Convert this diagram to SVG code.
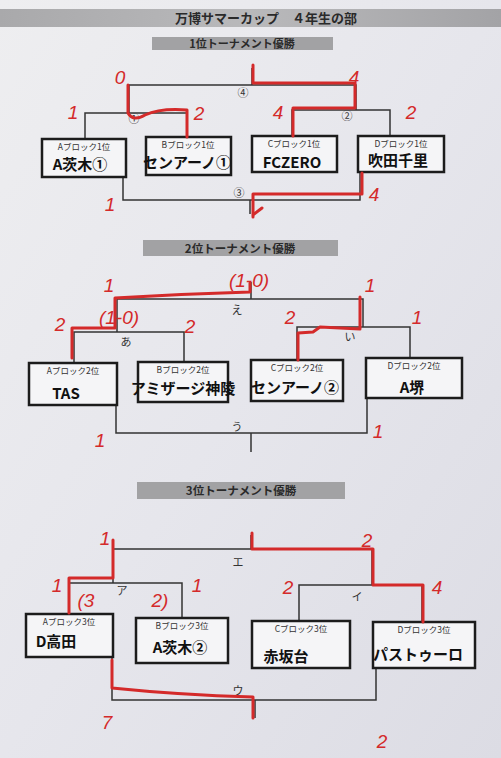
<svg xmlns="http://www.w3.org/2000/svg" width="501" height="758" viewBox="0 0 501 758">
<defs>
<linearGradient id="paper" x1="0" y1="0" x2="1" y2="1">
<stop offset="0" stop-color="#eeeef0"/>
<stop offset="0.5" stop-color="#e6e6ec"/>
<stop offset="1" stop-color="#dcdce4"/>
</linearGradient>
<linearGradient id="band" x1="0" y1="0" x2="1" y2="0">
<stop offset="0" stop-color="#a9a9ab"/>
<stop offset="0.5" stop-color="#b9b9bb"/>
<stop offset="1" stop-color="#a3a3a6"/>
</linearGradient>
<style>
.sub{fill:#a2a2a4}
.ttl{font-family:"Noto Sans CJK JP","Noto Sans",sans-serif;font-weight:bold;fill:#2a2a2a;text-anchor:middle}
.box{fill:#f5f5f7;stroke:#1c1c1c;stroke-width:2.5}
.blk{font-family:"Noto Sans CJK JP","Noto Sans",sans-serif;font-size:8.5px;fill:#333;text-anchor:middle}
.nm{font-family:"Noto Sans CJK JP","Noto Sans",sans-serif;font-size:15px;font-weight:bold;fill:#111;text-anchor:middle}
.ln{fill:none;stroke:#333;stroke-width:1.5}
.ml{font-family:"Noto Sans CJK JP","Noto Sans",sans-serif;font-size:11px;fill:#333;text-anchor:middle}
.rd{fill:none;stroke:#d42a2a;stroke-width:3;stroke-linecap:round;stroke-linejoin:round}
.rt{font-family:"Liberation Sans",sans-serif;font-size:19px;font-style:italic;fill:#d42a2a;text-anchor:middle}
</style>
</defs>
<rect width="501" height="758" fill="url(#paper)"/>
<g id="title">
<rect x="0" y="9" width="501" height="18" fill="url(#band)"/>
<text class="ttl" x="266" y="23" font-size="13">万博サマーカップ　４年生の部</text>
</g>
<g id="heading1"><rect class="sub" x="152" y="37" width="181" height="13"/><text class="ttl" x="242" y="47.5" font-size="11">1位トーナメント優勝</text></g>
<g id="heading2"><rect class="sub" x="143" y="240" width="195" height="16"/><text class="ttl" x="240" y="252.5" font-size="11.5">2位トーナメント優勝</text></g>
<g id="heading3"><rect class="sub" x="137" y="482" width="208" height="17"/><text class="ttl" x="241" y="495" font-size="11.5">3位トーナメント優勝</text></g>

<g id="connectors">
<path class="ln" d="M85,139 V113 H187 V137"/>
<path class="ln" d="M292,136 V110 H390 V136"/>
<path class="ln" d="M129,113 V85 H356 V110 M252,85 V68"/>
<path class="ln" d="M123,177 V200 H360 V172 M250,200 V214"/>
<path class="ln" d="M74,363 V332 H184 V362"/>
<path class="ln" d="M297,360 V327 H410 V358"/>
<path class="ln" d="M117,332 V299 H363 V327 M251,299 V282"/>
<path class="ln" d="M116,405 V433 H367 V398 M251,433 V452"/>
<path class="ln" d="M69,614 V583 H182 V618"/>
<path class="ln" d="M299,621 V585 H422 V622"/>
<path class="ln" d="M113,583 V549 H372 V585 M251,549 V535"/>
<path class="ln" d="M112,657 V700 H376 V668 M255,700 V718"/>
</g>
<g id="match-labels">
<text class="ml" x="243" y="97">④</text>
<text class="ml" x="134" y="123">①</text>
<text class="ml" x="347" y="120">②</text>
<text class="ml" x="239" y="197">③</text>
<text class="ml" x="126" y="346">あ</text>
<text class="ml" x="350" y="341">い</text>
<text class="ml" x="237" y="314">え</text>
<text class="ml" x="237" y="431">う</text>
<text class="ml" x="122" y="595">ア</text>
<text class="ml" x="357" y="601">イ</text>
<text class="ml" x="238" y="566">エ</text>
<text class="ml" x="238" y="695">ウ</text>
</g>

<g id="A1"><rect class="box" x="42" y="139" width="84" height="38"/><text class="blk" x="84" y="150">Aブロック1位</text><text class="nm" x="80" y="170">A茨木①</text></g>
<g id="B1"><rect class="box" x="146" y="137" width="85" height="38"/><text class="blk" x="188" y="148">Bブロック1位</text><text class="nm" x="187" y="168" font-size="12.5">センアーノ①</text></g>
<g id="C1"><rect class="box" x="252" y="136" width="85" height="36"/><text class="blk" x="294" y="147">Cブロック1位</text><text class="nm" x="292" y="168" font-size="17">FCZERO</text></g>
<g id="D1"><rect class="box" x="358" y="136" width="86" height="36"/><text class="blk" x="401" y="147">Dブロック1位</text><text class="nm" x="398" y="166">吹田千里</text></g>

<g id="A2"><rect class="box" x="29" y="363" width="88" height="42"/><text class="blk" x="73" y="374">Aブロック2位</text><text class="nm" x="66" y="399">TAS</text></g>
<g id="B2"><rect class="box" x="138" y="362" width="90" height="40"/><text class="blk" x="183" y="373">Bブロック2位</text><text class="nm" x="183" y="394" font-size="11.5">アミザージ神陵</text></g>
<g id="C2"><rect class="box" x="251" y="360" width="92" height="41"/><text class="blk" x="297" y="371">Cブロック2位</text><text class="nm" x="295" y="393" font-size="13.5">センアーノ②</text></g>
<g id="D2"><rect class="box" x="366" y="358" width="96" height="40"/><text class="blk" x="414" y="369">Dブロック2位</text><text class="nm" x="412" y="393" font-size="18">A堺</text></g>

<g id="A3"><rect class="box" x="26" y="614" width="87" height="43"/><text class="blk" x="69" y="625">Aブロック3位</text><text class="nm" x="56" y="647">D高田</text></g>
<g id="B3"><rect class="box" x="136" y="618" width="92" height="45"/><text class="blk" x="182" y="629">Bブロック3位</text><text class="nm" x="180" y="653" font-size="17">A茨木②</text></g>
<g id="C3"><rect class="box" x="252" y="621" width="98" height="47"/><text class="blk" x="301" y="632">Cブロック3位</text><text class="nm" x="286" y="662">赤坂台</text></g>
<g id="D3"><rect class="box" x="373" y="622" width="102" height="46"/><text class="blk" x="424" y="633">Dブロック3位</text><text class="nm" x="418" y="660" font-size="14">パストゥーロ</text></g>

<g id="annotations">
<path class="rd" d="M253,65 V83 H355 V108 H293 V136"/>
<path class="rd" d="M128,85 V113 Q133,122 145,115 Q160,108 187,110 V137"/>
<path class="rd" d="M362,173 V194 H253 V217 M253,215 L262,208"/>
<path class="rd" d="M72,358 V328 H115 V298 Q180,294 250,292 V283"/>
<path class="rd" d="M360,297 V329 L320,327 L313,332 L298,333 V360"/>
<path class="rd" d="M69,613 V578 H113 V540"/>
<path class="rd" d="M423,622 V585 H373 V549 H252 V533"/>
<path class="rd" d="M112,660 V688 Q180,695 253,697 V718"/>
<text class="rt" x="120" y="84">0</text>
<text class="rt" x="73" y="119">1</text>
<text class="rt" x="199" y="120">2</text>
<text class="rt" x="278" y="119">4</text>
<text class="rt" x="411" y="119">2</text>
<text class="rt" x="354" y="84">4</text>
<text class="rt" x="110" y="211">1</text>
<text class="rt" x="374" y="201">4</text>
<text class="rt" x="109" y="292">1</text>
<text class="rt" x="249" y="287">(1-0)</text>
<text class="rt" x="119" y="324">(1-0)</text>
<text class="rt" x="60" y="331">2</text>
<text class="rt" x="190" y="333">2</text>
<text class="rt" x="370" y="292">1</text>
<text class="rt" x="290" y="324">2</text>
<text class="rt" x="417" y="324">1</text>
<text class="rt" x="100" y="447">1</text>
<text class="rt" x="378" y="438">1</text>
<text class="rt" x="105" y="545">1</text>
<text class="rt" x="57" y="592">1</text>
<text class="rt" x="86" y="607">(3</text>
<text class="rt" x="160" y="607">2)</text>
<text class="rt" x="197" y="592">1</text>
<text class="rt" x="288" y="594">2</text>
<text class="rt" x="437" y="594">4</text>
<text class="rt" x="367" y="547">2</text>
<text class="rt" x="107" y="729">7</text>
<text class="rt" x="382" y="748">2</text>
</g>
</svg>
